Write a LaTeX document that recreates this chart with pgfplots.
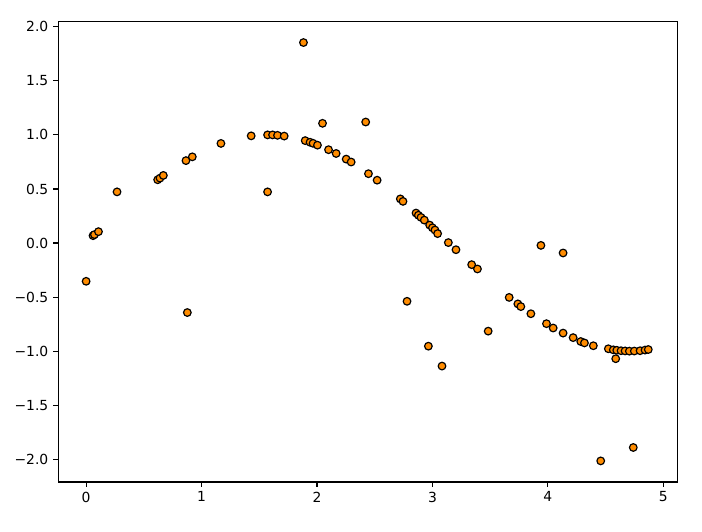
\documentclass[border=0pt]{standalone}
\usepackage{pgfplots}
\pgfplotsset{compat=1.18}
\usepackage{fontspec}
\setmainfont{DejaVu Sans}
\definecolor{morange}{RGB}{255,140,0}
\begin{document}
\begin{tikzpicture}[x=1pt,y=1pt]
\path[use as bounding box] (-41.8pt,-36pt) rectangle (463.6pt,347.0pt);
\begin{axis}[
  at={(0,0)}, anchor=south west,
  scale only axis,
  width=445.7pt, height=331.4pt,
  xmin=-0.243, xmax=5.12,
  ymin=-2.21, ymax=2.047,
  xtick={0,1,2,3,4,5},
  ytick={-2,-1.5,-1,-0.5,0,0.5,1,1.5,2},
  yticklabels={−2.0,−1.5,−1.0,−0.5,0.0,0.5,1.0,1.5,2.0},
  xticklabels={0,1,2,3,4,5},
  tick pos=left,
  tick align=outside,
  major tick length=3.5pt,
  every tick/.style={black, line width=0.8pt},
  axis line style={line width=0.8pt, draw=black},
  tick label style={font=\fontsize{10}{12}\selectfont},
  /pgf/number format/assume math mode=true,
  clip=false,
]
\addplot[only marks, mark=*, mark size=2.75pt,
  mark options={fill=morange, draw=black, line width=0.85pt}]
  table {
x y
0.000 -0.354
0.060 0.068
0.072 0.078
0.107 0.105
0.268 0.473
0.620 0.585
0.640 0.600
0.669 0.625
0.865 0.762
0.877 -0.643
0.920 0.797
1.168 0.921
1.430 0.991
1.572 1.000
1.572 0.473
1.615 1.000
1.658 0.996
1.716 0.989
1.883 1.854
1.898 0.947
1.940 0.932
1.966 0.922
2.004 0.905
2.048 1.107
2.100 0.863
2.166 0.828
2.253 0.776
2.296 0.749
2.422 1.119
2.446 0.641
2.521 0.581
2.722 0.408
2.745 0.385
2.780 -0.539
2.858 0.277
2.878 0.257
2.901 0.237
2.930 0.212
2.965 -0.954
2.976 0.166
3.000 0.141
3.022 0.120
3.045 0.087
3.083 -1.138
3.138 0.004
3.204 -0.062
3.340 -0.200
3.390 -0.240
3.483 -0.815
3.665 -0.503
3.740 -0.563
3.766 -0.588
3.853 -0.654
3.940 -0.022
3.988 -0.746
4.046 -0.786
4.132 -0.833
4.132 -0.092
4.219 -0.875
4.285 -0.911
4.317 -0.924
4.394 -0.950
4.458 -2.015
4.524 -0.978
4.567 -0.988
4.588 -1.070
4.597 -0.992
4.634 -0.996
4.669 -0.998
4.706 -1.000
4.740 -1.891
4.749 -0.999
4.799 -0.996
4.842 -0.990
4.870 -0.985
};
\end{axis}
\end{tikzpicture}
\end{document}
